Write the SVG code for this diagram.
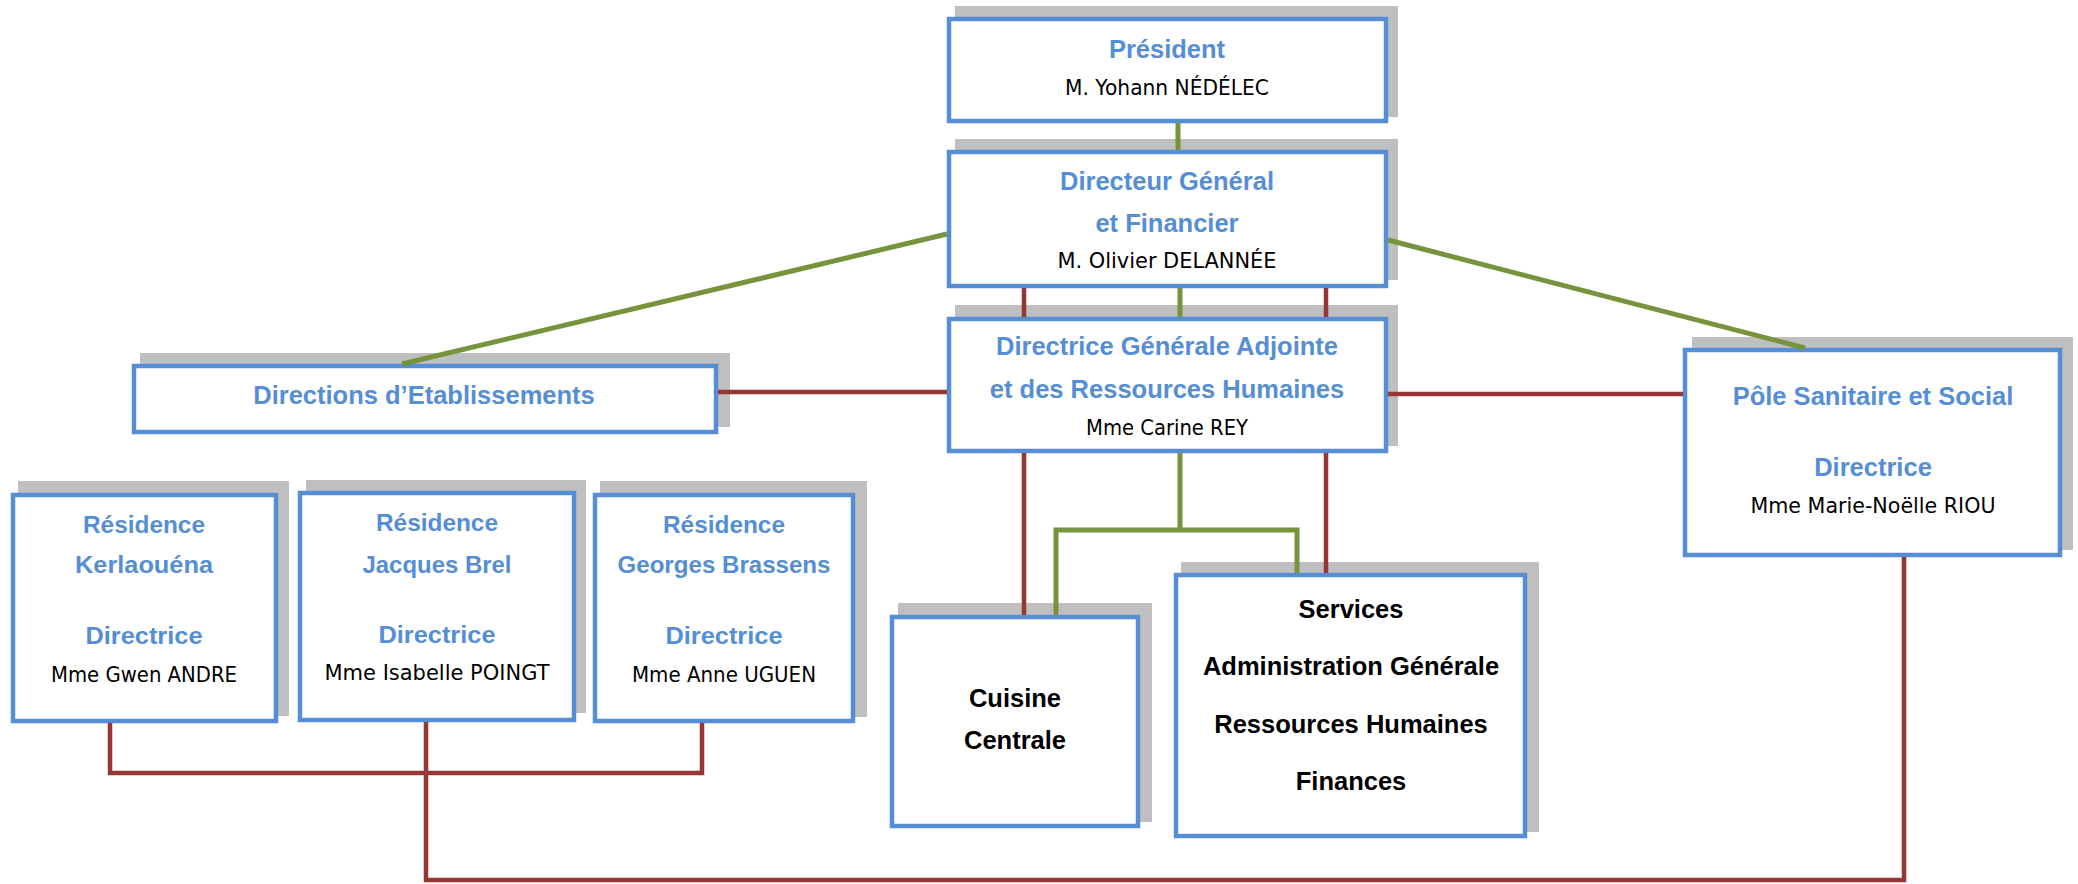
<svg xmlns="http://www.w3.org/2000/svg" width="2078" height="884" viewBox="0 0 2078 884">
<style>
.sh{fill:#BFBFBF}
.bx{fill:#FFFFFF;stroke:#558ED5;stroke-width:4.5}
.t{font-family:"Liberation Sans",Arial,sans-serif;font-weight:bold;fill:#558ED5;text-anchor:middle;font-size:25.5px}
.tr{font-family:"Liberation Sans",Arial,sans-serif;font-weight:bold;fill:#558ED5;text-anchor:middle;font-size:24.5px}
.k{font-family:"Liberation Sans",Arial,sans-serif;font-weight:bold;fill:#000000;text-anchor:middle;font-size:25.5px}
.n{font-family:"DejaVu Sans","Liberation Sans",sans-serif;fill:#000000;text-anchor:middle;font-size:20.5px}
.g{stroke:#77933C;stroke-width:5;fill:none}
.r{stroke:#953735;stroke-width:4.5;fill:none}
</style>
<rect width="2078" height="884" fill="#FFFFFF"/>
<g id="president">
<rect class="sh" x="955" y="6" width="443" height="111"/>
<rect class="bx" x="949" y="19" width="437" height="102"/>
<text class="t" x="1167" y="58">Président</text>
<text class="n" x="1167" y="95" textLength="204" lengthAdjust="spacingAndGlyphs">M. Yohann NÉDÉLEC</text>
</g>
<g id="directeur">
<rect class="sh" x="955" y="139" width="443" height="141"/>
<rect class="bx" x="949" y="152" width="437" height="134"/>
<text class="t" x="1167" y="190">Directeur Général</text>
<text class="t" x="1167" y="232">et Financier</text>
<text class="n" x="1167" y="268" textLength="219" lengthAdjust="spacingAndGlyphs">M. Olivier DELANNÉE</text>
</g>
<g id="dga">
<rect class="sh" x="955" y="305" width="443" height="141"/>
<rect class="bx" x="949" y="319" width="437" height="132"/>
<text class="t" x="1167" y="355">Directrice Générale Adjointe</text>
<text class="t" x="1167" y="398">et des Ressources Humaines</text>
<text class="n" x="1167" y="435" textLength="162" lengthAdjust="spacingAndGlyphs">Mme Carine REY</text>
</g>
<g id="directions">
<rect class="sh" x="140" y="353" width="590" height="74"/>
<rect class="bx" x="134" y="366" width="582" height="66"/>
<text class="t" x="424" y="404" font-size="25">Directions d’Etablissements</text>
</g>
<g id="pole">
<rect class="sh" x="1692" y="337" width="381" height="213"/>
<rect class="bx" x="1685" y="350" width="375" height="205"/>
<text class="t" x="1873" y="405">Pôle Sanitaire et Social</text>
<text class="t" x="1873" y="476">Directrice</text>
<text class="n" x="1873" y="513" textLength="245" lengthAdjust="spacingAndGlyphs">Mme Marie-Noëlle RIOU</text>
</g>
<g id="kerlaouena">
<rect class="sh" x="18" y="481" width="271" height="235"/>
<rect class="bx" x="13" y="495" width="263" height="226"/>
<text class="tr" x="144" y="533" textLength="122" lengthAdjust="spacingAndGlyphs">Résidence</text>
<text class="tr" x="144" y="573" textLength="138" lengthAdjust="spacingAndGlyphs">Kerlaouéna</text>
<text class="tr" x="144" y="644" textLength="117" lengthAdjust="spacingAndGlyphs">Directrice</text>
<text class="n" x="144" y="682" textLength="186" lengthAdjust="spacingAndGlyphs">Mme Gwen ANDRE</text>
</g>
<g id="jacques-brel">
<rect class="sh" x="306" y="480" width="280" height="233"/>
<rect class="bx" x="300" y="493" width="274" height="227"/>
<text class="tr" x="437" y="531" textLength="122" lengthAdjust="spacingAndGlyphs">Résidence</text>
<text class="tr" x="437" y="573" textLength="149" lengthAdjust="spacingAndGlyphs">Jacques Brel</text>
<text class="tr" x="437" y="643" textLength="117" lengthAdjust="spacingAndGlyphs">Directrice</text>
<text class="n" x="437" y="680" textLength="225" lengthAdjust="spacingAndGlyphs">Mme Isabelle POINGT</text>
</g>
<g id="georges-brassens">
<rect class="sh" x="600" y="481" width="267" height="236"/>
<rect class="bx" x="595" y="495" width="258" height="226"/>
<text class="tr" x="724" y="533" textLength="122" lengthAdjust="spacingAndGlyphs">Résidence</text>
<text class="tr" x="724" y="573" textLength="213" lengthAdjust="spacingAndGlyphs">Georges Brassens</text>
<text class="tr" x="724" y="644" textLength="117" lengthAdjust="spacingAndGlyphs">Directrice</text>
<text class="n" x="724" y="682" textLength="184" lengthAdjust="spacingAndGlyphs">Mme Anne UGUEN</text>
</g>
<g id="cuisine">
<rect class="sh" x="898" y="603" width="254" height="219"/>
<rect class="bx" x="892" y="617" width="246" height="209"/>
<text class="k" x="1015" y="707">Cuisine</text>
<text class="k" x="1015" y="749">Centrale</text>
</g>
<g id="services">
<rect class="sh" x="1181" y="562" width="358" height="270"/>
<rect class="bx" x="1176" y="575" width="349" height="261"/>
<text class="k" x="1351" y="618">Services</text>
<text class="k" x="1351" y="675">Administration Générale</text>
<text class="k" x="1351" y="733">Ressources Humaines</text>
<text class="k" x="1351" y="790">Finances</text>
</g>
<g id="connectors">
<line class="g" x1="1178" y1="123" x2="1178" y2="150"/>
<line class="g" x1="1180" y1="288" x2="1180" y2="317"/>
<line class="r" x1="1024" y1="288" x2="1024" y2="317"/>
<line class="r" x1="1326" y1="288" x2="1326" y2="317"/>
<line class="g" x1="947" y1="234" x2="402" y2="364"/>
<line class="g" x1="1388" y1="240" x2="1805" y2="348"/>
<line class="r" x1="718" y1="392" x2="947" y2="392"/>
<line class="r" x1="1388" y1="394" x2="1683" y2="394"/>
<line class="r" x1="1024" y1="453" x2="1024" y2="615"/>
<line class="r" x1="1326" y1="453" x2="1326" y2="573"/>
<polyline class="g" points="1180,453 1180,530"/>
<polyline class="g" points="1056,615 1056,530 1297,530 1297,573"/>
<polyline class="r" points="110,723 110,773 702,773 702,723"/>
<polyline class="r" points="426,722 426,880 1904,880 1904,557"/>
</g>
</svg>
